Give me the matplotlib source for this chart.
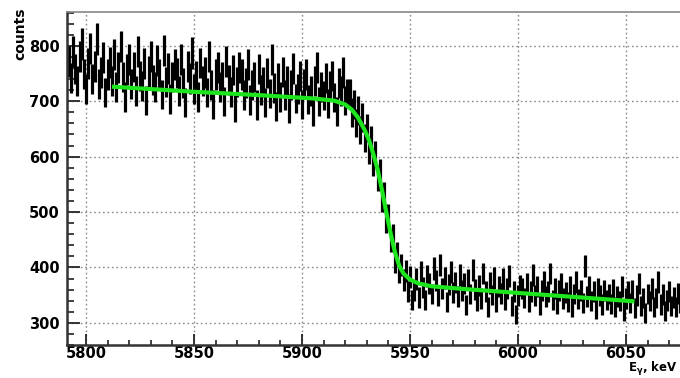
import numpy as np
import matplotlib.pyplot as plt
from matplotlib.ticker import MultipleLocator

plt.rcParams['font.family'] = ['DejaVu Sans']
plt.rcParams['mathtext.fontset'] = 'dejavusans'
plt.rcParams['mathtext.default'] = 'bf'

# histogram, 1 keV bins starting at 5792 keV
E_START = 5792
counts = [
    771, 742, 790, 758, 736, 781, 803, 749, 722, 768,
    795, 740, 763, 812, 731, 752, 779, 716, 748, 770,
    737, 784, 726, 761, 799, 743, 708, 757, 776, 731,
    762, 718, 790, 745, 727, 768, 701, 754, 781, 739,
    726, 773, 748, 712, 791, 735, 759, 704, 744, 766,
    751, 719, 776, 733, 698, 763, 741, 787, 722, 746,
    708, 769, 737, 752, 716, 780, 729, 694, 748, 761,
    725, 743, 699, 772, 738, 717, 756, 689, 735, 761,
    748, 711, 733, 766, 702, 729, 744, 693, 758, 720,
    735, 698, 751, 714, 776, 724, 690, 741, 708, 753,
    711, 737, 686, 729, 759, 705, 722, 745, 694, 731,
    748, 703, 719, 682, 737, 761, 699, 726, 710, 742,
    696, 728, 745, 707, 681, 733, 719, 752, 701, 714,
    713, 679, 694, 661, 684, 648, 671, 633, 652, 611,
    630, 589, 604, 561, 571, 522, 531, 484, 492, 449,
    457, 411, 426, 392, 404, 377, 394, 356, 383, 341,
    358, 379, 346, 392, 364, 341, 385, 371, 352, 398,
    376, 349, 404, 362, 381, 338, 369, 392, 355, 373,
    347, 386, 359, 371, 332, 378, 352, 395, 361, 340,
    368, 344, 389, 357, 329, 372, 350, 381, 338, 366,
    353, 379, 341, 362, 384, 330, 357, 315, 349, 368,
    362, 345, 371, 338, 357, 386, 349, 366, 332, 359,
    374, 347, 356, 389, 341, 362, 335, 358, 371, 344,
    355, 338, 366, 329, 352, 374, 343, 358, 336, 403,
    347, 365, 339, 356, 325, 362, 349, 333, 358, 341,
    352, 334, 361, 328, 347, 339, 366, 321, 344, 357,
    336, 358, 327, 349, 371, 331, 345, 318, 352, 339,
    362, 328, 345, 374, 333, 351, 322, 340, 357, 331,
    346, 329, 353, 337,
]

# fitted curve, points
fit_e = [5813, 5850, 5880, 5905, 5915, 5920, 5923, 5926, 5929, 5931, 5933,
         5935, 5937, 5939, 5941, 5943, 5945, 5947, 5950, 5954, 5960, 5975,
         6000, 6025, 6053]
fit_c = [726, 717, 711, 705, 701, 694, 685, 670, 648, 630, 605,
         577, 540, 500, 462, 428, 403, 389, 378, 371, 366, 361,
         354, 347, 339]

energy = np.arange(E_START, E_START + len(counts))
err = np.sqrt(counts)

fig = plt.figure(figsize=(6.8, 3.78), dpi=100)
ax = fig.add_axes([67 / 680, 1 - 345 / 378, 1 - 67 / 680, 333 / 378])

ax.errorbar(energy, counts, yerr=err, fmt='none',
            ecolor='black', elinewidth=2.3, zorder=2)
ax.plot(fit_e, fit_c, color='#1ee61e', lw=3, zorder=3)

ax.set_xlim(5791.2, 6075)
ax.set_ylim(260, 861)

ax.xaxis.set_major_locator(MultipleLocator(50))
ax.xaxis.set_minor_locator(MultipleLocator(10))
ax.yaxis.set_major_locator(MultipleLocator(100))
ax.yaxis.set_minor_locator(MultipleLocator(20))
ax.tick_params(axis='both', which='both', direction='in', labelsize=10.5,
               top=False, right=False, color='#333333')
ax.tick_params(axis='x', which='major', length=8, width=1.4, pad=1)
ax.tick_params(axis='x', which='minor', length=3.5, width=1.3)
ax.tick_params(axis='y', which='major', length=9, width=1.4, pad=5)
ax.tick_params(axis='y', which='minor', length=5, width=1.3)
for lab in ax.get_xticklabels() + ax.get_yticklabels():
    lab.set_fontweight('bold')

ax.grid(True, which='major', color='#8a8a8a', linestyle=(0, (1.2, 2)), lw=1)
ax.spines['left'].set_linewidth(1.8)
ax.spines['left'].set_color('#333333')
ax.spines['bottom'].set_linewidth(1.8)
ax.spines['bottom'].set_color('#333333')
ax.spines['top'].set_color('#888888')
ax.spines['top'].set_linewidth(1.2)
ax.spines['right'].set_visible(False)

fig.text(20 / 680, 1 - 8 / 378, 'counts', rotation=90, ha='center', va='top',
         fontsize=10, fontweight='bold')
fig.text(677 / 680, 0.0, r'E$_{\gamma}$, keV', ha='right',
         va='bottom', fontsize=8.5, fontweight='bold')

fig.savefig('out.png', dpi=100)
